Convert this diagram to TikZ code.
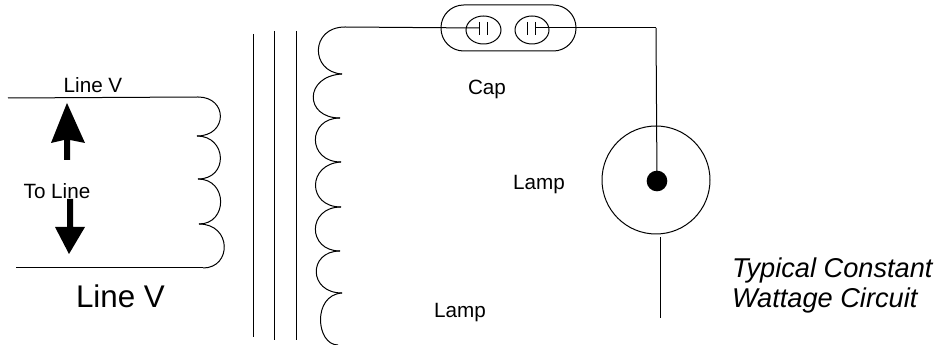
\documentclass[tikz,border=0pt]{standalone}
\usepackage{fontspec}
\setmainfont{Liberation Sans}
\usetikzlibrary{calc,shapes.geometric}
\tikzset{
  wire/.style={draw=black,line width=0.75pt},
  label/.style={inner sep=0pt,outer sep=0pt,anchor=center,text=black},
  small/.style={label,font=\fontsize{15.5}{18}\selectfont},
  big/.style={label,font=\fontsize{23.5}{26}\selectfont},
  note/.style={label,font=\fontsize{20.4}{22.5}\selectfont\itshape,align=left,anchor=west},
  fat arrow/.style={fill=black,draw=none}
}
\begin{document}
\begin{tikzpicture}[x=0.75pt,y=-0.75pt]
\useasboundingbox (0,0) rectangle (940,345);
% anchor points
\coordinate (pa) at (8,98);
\coordinate (pb) at (198,97);
\coordinate (pc) at (197,136);
\coordinate (pd) at (198,179);
\coordinate (pe) at (199,224);
\coordinate (pf) at (203,268);
\coordinate (pg) at (16,268);
\coordinate (sa) at (345,27);
\coordinate (sb) at (342,74);
\coordinate (sc) at (340,118);
\coordinate (sd) at (341,162);
\coordinate (se) at (341,207);
\coordinate (sf) at (340,251);
\coordinate (sg) at (342,293);
\coordinate (sh) at (338,345);
\coordinate (joint) at (656,28);
% primary
\draw[wire] (pa) -- (pb);
\draw[wire] (pg) -- (pf);
\draw[wire] (pb) .. controls (228,97) and (228,136) .. (pc);
\draw[wire] (pc) .. controls (227,136) and (229,179) .. (pd);
\draw[wire] (pd) .. controls (228,179) and (228,224) .. (pe);
\draw[wire] (pe) .. controls (232,224) and (232,268) .. (pf);
% core
\draw[wire] (253,34) -- (253,337);
\draw[wire] (274,31) -- (274,340);
\draw[wire] (296,31) -- (296,340);
% secondary
\draw[wire] (sa) .. controls (310,27) and (310,72) .. (sb);
\draw[wire] (sb) .. controls (304,76) and (304,118) .. (sc);
\draw[wire] (sc) .. controls (307,118) and (307,162) .. (sd);
\draw[wire] (sd) .. controls (307,164) and (307,207) .. (se);
\draw[wire] (se) .. controls (307,207) and (307,251) .. (sf);
\draw[wire] (sf) .. controls (308,251) and (308,293) .. (sg);
\draw[wire] (sg) .. controls (312,295) and (316,345) .. (sh);
% capacitor
\node[draw=black,line width=0.75pt,rounded corners=17pt,minimum width=101.25pt,minimum height=34.5pt,inner sep=0pt] (capsule) at (508.5,28) {};
\node[draw=black,line width=0.75pt,ellipse,minimum width=26.25pt,minimum height=21pt,inner sep=0pt] (ca) at (483.5,30) {};
\node[draw=black,line width=0.75pt,ellipse,minimum width=25.5pt,minimum height=21pt,inner sep=0pt] (cb) at (532,30) {};
\coordinate (pl1) at (479,28);
\coordinate (pl2) at (535,28);
\draw[wire] (sa) -- (pl1);
\draw[wire] (pl2) -- (joint);
\draw[wire] (479,22) -- (479,35);
\draw[wire] (487,22) -- (487,35);
\draw[wire] (527,22) -- (527,35);
\draw[wire] (535,22) -- (535,35);
% lamp
\node[draw=black,line width=0.75pt,circle,minimum size=81pt,inner sep=0pt] (lamp) at (656,180) {};
\node[fill=black,circle,minimum size=15.5pt,inner sep=0pt] (dot) at (657,181) {};
\draw[wire] (joint) -- (dot.center);
\coordinate (lampout) at (660,237);
\coordinate (lampend) at (660,318);
\draw[wire] (lampout) -- (lampend);
% arrows
\fill[fat arrow] (67,103) -- (85,143) -- (70,140) -- (70,160) -- (64,160) -- (64,140) -- (51,143) -- cycle;
\fill[fat arrow] (67,199) -- (73,199) -- (73,227) -- (85,227) -- (69,254) -- (55,227) -- (67,227) -- cycle;
% labels
\node[small] (l1) at (93,85) {Line V};
\node[small] (l2) at (57,191) {To Line};
\node[big] (l3) at (120.5,296) {Line V};
\node[small] (l4) at (487,89) {Cap};
\node[small] (l5) at (539,184.5) {Lamp};
\node[small] (l6) at (460,313) {Lamp};
\node[note] (l7) at (732,285) {Typical Constant\\Wattage Circuit};
\end{tikzpicture}
\end{document}
